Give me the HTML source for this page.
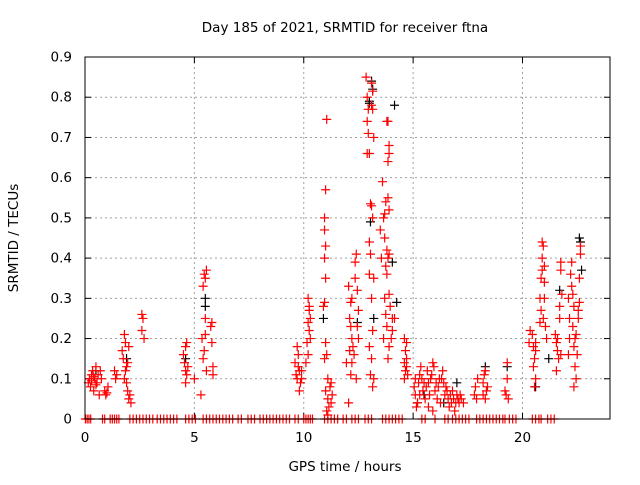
<!DOCTYPE html>
<html><head><meta charset="utf-8"><style>
body{margin:0;background:#fff}
svg text{font-family:"DejaVu Sans","Liberation Sans",sans-serif;font-size:13.5px;fill:#000}
</style></head><body>
<svg id="chart" width="640" height="480" xmlns="http://www.w3.org/2000/svg">
<rect width="640" height="480" fill="#fff"/>
<text x="345" y="32" text-anchor="middle">Day 185 of 2021, SRMTID for receiver ftna</text>
<g id="grid"></g>
<g id="axes"></g>
<g id="black"></g>
<g id="red"></g>
<rect x="85" y="57" width="525" height="362" fill="none" stroke="#000" stroke-width="1"/>
<text x="345" y="471" text-anchor="middle">GPS time / hours</text>
<text transform="translate(18,238) rotate(-90)" text-anchor="middle">SRMTID / TECUs</text>
</svg>
<script>
const xTicks=[0,5,10,15,20];
const yTicks=[0,0.1,0.2,0.3,0.4,0.5,0.6,0.7,0.8,0.9];
const yTickLabels=["0","0.1","0.2","0.3","0.4","0.5","0.6","0.7","0.8","0.9"];
const zeroHours=[0.02,0.1,0.18,0.26,0.8,0.9,1.15,1.25,1.35,1.45,1.55,2.05,2.2,2.35,2.5,2.65,2.8,2.95,3.1,3.3,3.45,3.6,3.75,3.9,4.05,4.2,4.6,4.75,4.9,5.05,5.4,5.55,5.7,5.85,6.0,6.15,6.3,6.45,6.6,6.75,7.0,7.15,7.45,7.6,7.75,8.0,8.15,8.3,8.45,8.6,8.75,8.9,9.05,9.2,9.35,9.6,9.75,10.0,10.1,10.2,10.3,10.4,10.95,11.1,11.25,11.4,11.55,11.8,11.95,12.2,12.35,12.5,12.8,12.95,13.1,13.6,13.75,13.9,14.05,14.2,14.35,14.5,15.4,15.55,16.0,16.45,16.6,16.8,16.95,17.1,17.25,17.4,17.55,17.9,18.05,18.2,18.35,18.5,18.65,18.8,18.95,19.1,19.2,19.4,19.55,19.7,20.45,20.6,20.75,20.85,21.15,21.3,21.45];
const redPts=[[0.15,0.09],[0.2,0.1],[0.25,0.08],[0.3,0.11],[0.35,0.12],[0.4,0.07],[0.45,0.1],[0.5,0.13],[0.55,0.09],[0.6,0.11],[0.65,0.06],[0.7,0.12],[0.75,0.1],[0.3,0.095],[0.4,0.105],[0.5,0.085],[0.9,0.07],[1.0,0.065],[1.05,0.08],[0.95,0.06],[1.35,0.12],[1.4,0.1],[1.45,0.11],[1.7,0.17],[1.75,0.15],[1.8,0.21],[1.85,0.19],[1.8,0.1],[1.9,0.13],[1.95,0.14],[2.0,0.18],[1.85,0.12],[1.95,0.07],[2.05,0.06],[2.1,0.04],[2.0,0.05],[1.9,0.09],[2.6,0.26],[2.65,0.25],[2.6,0.22],[2.7,0.2],
[4.5,0.16],[4.6,0.18],[4.55,0.14],[4.6,0.12],[4.65,0.11],[4.6,0.09],[4.7,0.13],[4.65,0.19],[5.0,0.1],[5.35,0.2],[5.45,0.36],[5.5,0.35],[5.55,0.37],[5.4,0.33],[5.5,0.25],[5.45,0.17],[5.4,0.15],[5.55,0.12],[5.3,0.06],[5.5,0.21],[5.8,0.24],[5.8,0.19],[5.85,0.13],[5.85,0.11],[5.75,0.23],
[9.6,0.14],[9.7,0.18],[9.75,0.16],[9.8,0.12],[9.7,0.1],[9.65,0.11],[9.85,0.09],[9.75,0.13],[9.9,0.12],[9.8,0.07],[9.9,0.1],
[10.2,0.3],[10.25,0.27],[10.2,0.24],[10.25,0.22],[10.3,0.2],[10.15,0.19],[10.2,0.16],[10.3,0.25],[10.25,0.28],[10.1,0.14],
[11.0,0.57],[11.05,0.745],[10.95,0.5],[10.95,0.47],[11.0,0.43],[10.95,0.4],[11.0,0.35],[10.9,0.28],[10.95,0.29],[11.0,0.19],[11.05,0.16],[10.95,0.15],[11.1,0.1],[11.0,0.07],[11.1,0.05],[11.15,0.03],[11.05,0.02],[11.2,0.08],[11.25,0.09],[11.3,0.06],[11.25,0.04],[11.1,0.01],
[12.15,0.29],[12.2,0.3],[12.1,0.25],[12.15,0.23],[12.2,0.2],[12.1,0.17],[12.2,0.14],[12.15,0.11],[12.25,0.18],[12.3,0.16],[12.35,0.39],[12.4,0.41],[12.45,0.32],[12.35,0.35],[12.5,0.27],[12.45,0.23],[12.5,0.2],[12.4,0.1],[12.05,0.04],[11.95,0.14],[12.05,0.33],
[12.85,0.85],[12.9,0.8],[12.95,0.77],[12.9,0.74],[12.95,0.71],[12.9,0.66],[13.0,0.66],[13.1,0.835],[13.15,0.815],[13.1,0.78],[13.15,0.77],[13.2,0.7],[13.1,0.53],[13.05,0.535],[13.15,0.5],[13.0,0.44],[13.05,0.41],[13.0,0.36],[13.1,0.3],[13.2,0.35],[13.15,0.22],[13.0,0.18],[13.1,0.15],[13.05,0.11],[13.15,0.08],[13.2,0.1],
[13.6,0.59],[13.5,0.47],[13.55,0.4],[13.65,0.5],[13.7,0.51],[13.7,0.45],[13.8,0.42],[13.85,0.4],[13.75,0.38],[13.8,0.36],[13.9,0.41],[13.85,0.74],[13.8,0.74],[13.9,0.68],[13.9,0.66],[13.85,0.64],[13.75,0.54],[13.85,0.55],[13.9,0.52],[13.7,0.3],[13.75,0.26],[13.9,0.31],[13.8,0.23],[13.65,0.2],[14.0,0.2],[14.05,0.25],[13.95,0.28],[14.05,0.22],[13.85,0.15],[14.15,0.25],[13.9,0.18],
[14.6,0.2],[14.7,0.19],[14.65,0.17],[14.6,0.14],[14.7,0.13],[14.65,0.12],[14.75,0.11],[14.6,0.1],[14.7,0.15],
[15.05,0.08],[15.1,0.06],[15.15,0.03],[15.2,0.04],[15.1,0.1],[15.25,0.09],[15.3,0.11],[15.35,0.13],[15.4,0.1],[15.45,0.07],[15.5,0.09],[15.55,0.05],[15.6,0.08],[15.65,0.12],[15.7,0.09],[15.75,0.06],[15.8,0.1],[15.85,0.11],[15.9,0.14],[15.95,0.13],[16.0,0.07],[16.05,0.09],[16.1,0.05],[15.7,0.03],[15.9,0.02],[16.15,0.08],[16.25,0.04],[16.3,0.1],[16.35,0.12],[16.4,0.09],[16.45,0.06],[16.5,0.08],[16.55,0.07],[16.6,0.05],[16.65,0.03],[16.7,0.06],[16.75,0.04],[16.8,0.07],[16.85,0.05],[16.9,0.02],[16.95,0.04],[17.0,0.06],[17.05,0.05],[17.1,0.04],[17.15,0.06],[17.2,0.05],[17.3,0.04],[15.3,0.06],[16.2,0.1],
[17.8,0.06],[17.85,0.08],[17.9,0.05],[17.95,0.1],[18.2,0.09],[18.25,0.11],[18.3,0.12],[18.35,0.07],[18.3,0.05],[18.4,0.08],[18.2,0.06],
[19.2,0.07],[19.25,0.06],[19.3,0.1],[19.3,0.14],[19.35,0.05],
[20.35,0.22],[20.3,0.19],[20.5,0.18],[20.6,0.17],[20.55,0.15],[20.5,0.13],[20.6,0.1],[20.55,0.08],[20.45,0.21],[20.6,0.19],[20.8,0.3],[20.85,0.35],[20.9,0.4],[20.9,0.44],[20.95,0.43],[21.0,0.38],[21.0,0.34],[20.85,0.27],[20.95,0.25],[21.05,0.23],[21.1,0.2],[21.0,0.3],[20.8,0.24],[20.9,0.37],
[21.5,0.21],[21.55,0.19],[21.6,0.17],[21.65,0.15],[21.55,0.12],[21.7,0.28],[21.75,0.37],[21.75,0.39],[21.8,0.31],[21.7,0.25],[21.6,0.2],[21.75,0.16],
[22.1,0.3],[22.15,0.25],[22.1,0.16],[22.15,0.2],[22.25,0.33],[22.3,0.31],[22.35,0.28],[22.2,0.36],[22.25,0.39],[22.3,0.23],[22.35,0.18],[22.4,0.2],[22.45,0.21],[22.4,0.13],[22.45,0.1],[22.35,0.08],[22.5,0.16],[22.55,0.25],[22.6,0.29],[22.6,0.35],[22.65,0.43],[22.65,0.41],[22.55,0.27]];
const blackPts=[[13.1,0.84],[13.15,0.82],[13.0,0.79],[13.0,0.785],[14.15,0.78],[13.05,0.49],[14.05,0.39],[14.25,0.29],[13.2,0.25],[12.45,0.24],[5.5,0.3],[5.5,0.28],[10.9,0.25],[20.6,0.08],[21.2,0.15],[22.6,0.45],[22.65,0.44],[22.7,0.37],[21.7,0.32],[15.2,0.04],[16.4,0.04],[17.0,0.09],[18.3,0.13],[1.9,0.15],[0.5,0.12],[4.6,0.15],[19.3,0.13],[15.5,0.06]];

const NS="http://www.w3.org/2000/svg";
const X0=85,X1=610,Y0=419,Y1=57,XMAX=24,YMAX=0.9;
function sx(h){return X0+(X1-X0)*h/XMAX;}
function sy(v){return Y0-(Y0-Y1)*v/YMAX;}
function mk(tag,attrs,parent){const e=document.createElementNS(NS,tag);for(const k in attrs)e.setAttribute(k,attrs[k]);parent.appendChild(e);return e;}
const grid=document.getElementById('grid'),axes=document.getElementById('axes');
xTicks.forEach((t,i)=>{
  const x=sx(t);
  if(t>0){const g=mk('line',{x1:x,x2:x,y1:Y0,y2:Y1,stroke:'#a0a0a0','stroke-dasharray':'2,3'},grid);
  
  }
  mk('line',{x1:x,x2:x,y1:Y0,y2:Y0-6,stroke:'#000'},axes);
  mk('line',{x1:x,x2:x,y1:Y1,y2:Y1+6,stroke:'#000'},axes);
  const tx=mk('text',{x:x,y:442,'text-anchor':'middle'},axes);tx.textContent=String(t);
  
  
});
yTicks.forEach((t,i)=>{
  const y=sy(t);
  if(t>0&&t<YMAX){const g=mk('line',{x1:X0,x2:X1,y1:y,y2:y,stroke:'#a0a0a0','stroke-dasharray':'2,3'},grid);
  
  }
  mk('line',{x1:X0,x2:X0+6,y1:y,y2:y,stroke:'#000'},axes);
  mk('line',{x1:X1,x2:X1-6,y1:y,y2:y,stroke:'#000'},axes);
  const tx=mk('text',{x:72,y:y+4.5,'text-anchor':'end'},axes);tx.textContent=yTickLabels[i];
  
  
});
function plus(g,h,v,color,name){
  const x=sx(h),y=sy(v),r=4.5;
  const p=mk('path',{d:`M${x-r} ${y}H${x+r}M${x} ${y-r}V${y+r}`,stroke:color,'stroke-width':1.2,fill:'none'},g);
  
  
}
const gb=document.getElementById('black'),gr=document.getElementById('red');
blackPts.forEach(p=>plus(gb,p[0],p[1],'#000','black-point'));
redPts.forEach(p=>plus(gr,p[0],p[1],'#ff0000','red-point'));
zeroHours.forEach(h=>plus(gr,h,0,'#ff0000','zero-point'));
</script>
</body></html>
